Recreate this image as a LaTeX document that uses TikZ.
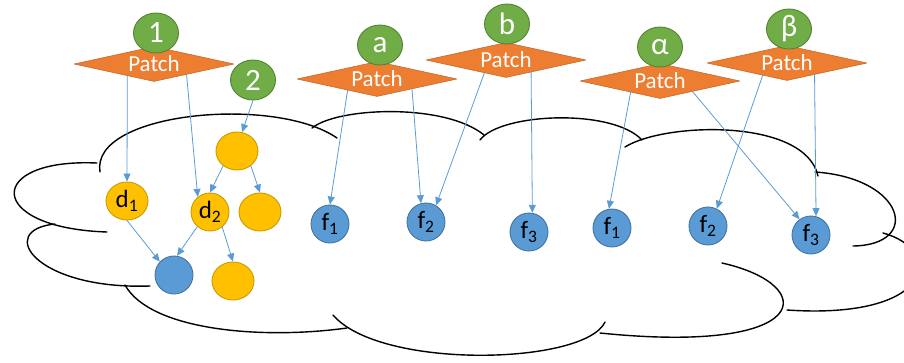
\documentclass[tikz,border=0pt]{standalone}
\usepackage{fontspec}
\setmainfont{Carlito}
\usetikzlibrary{shapes.geometric,arrows.meta}
\definecolor{porange}{HTML}{ED7D31}
\definecolor{pgreen}{HTML}{70AD47}
\definecolor{pyellow}{HTML}{FFC000}
\definecolor{pblue}{HTML}{5B9BD5}
\begin{document}
\begin{tikzpicture}[line join=round,line cap=round,x=1pt,y=-1pt,
	patch/.style={diamond,shape aspect=4.6,draw=porange!85!black,line width=.6pt,fill=porange,minimum width=160pt,minimum height=35pt,inner sep=0pt,text=white,font=\fontsize{23}{23}\selectfont},
	tag/.style={ellipse,draw=pgreen!75!black,line width=.9pt,fill=pgreen,minimum width=45pt,minimum height=40pt,inner sep=0pt,text=white,font=\fontsize{31}{31}\selectfont},
	ynode/.style={ellipse,draw=pyellow!80!black,line width=.9pt,fill=pyellow,minimum width=42pt,minimum height=38pt,inner sep=0pt,font=\fontsize{25}{25}\selectfont},
	bnode/.style={circle,draw=pblue!75!black,line width=.9pt,fill=pblue,minimum size=38pt,inner sep=0pt,font=\fontsize{25}{25}\selectfont},
	link/.style={-{Triangle[length=8pt,width=7pt]},draw=pblue,line width=.8pt},
	cloudline/.style={line width=1.4pt}]
	\useasboundingbox (0,0) rectangle (904,362);
	%Vẽ đám mây
	\begin{scope}
	\clip (0,0) rectangle (904,362);
	\draw[cloudline] (100,172) .. controls (90,112) and (275,95) .. (337,138);
	\draw[cloudline] (312,128) .. controls (338,107) and (445,103) .. (484,135);
	\draw[cloudline] (480,140) .. controls (500,113) and (612,108) .. (642,140);
	\draw[cloudline] (625,147) .. controls (665,122) and (805,118) .. (818,176);
	\draw[cloudline] (815,172) .. controls (905,178) and (922,245) .. (853,246);
	\draw[cloudline] (883,233) .. controls (945,250) and (935,320) .. (787,310);
	\draw[cloudline] (722,263) .. controls (820,285) and (815,355) .. (600,333);
	\draw[cloudline] (605,322) .. controls (585,365) and (380,370) .. (333,315);
	\draw[cloudline] (347,328) .. controls (260,340) and (150,330) .. (125,285);
	\draw[cloudline] (150,286) .. controls (35,290) and (-5,230) .. (55,224);
	\draw[cloudline] (107,232) .. controls (-15,228) and (-15,158) .. (97,163);
	\end{scope}
	%Các patch và nhãn
	\foreach \n/\x/\y in {p1/154/64,pa/377/79,pb/506/60,pal/660/81,pbe/787/63}
		\node[patch] (\n) at (\x,\y) {Patch};
	\foreach \n/\x/\y/\t in {g1/156/33/1,g2/253/80/2,ga/380/45/a,gb/507/24/b,gal/660/47/α,gbe/789/29/β}
		\node[tag] (\n) at (\x,\y) {\t};
	%Các nút trong đám mây
	\node[ynode] (y0) at (237,151) {};
	\node[ynode] (d1) at (127,201) {d\textsubscript{1}};
	\node[ynode,minimum width=38pt] (d2) at (210,212) {d\textsubscript{2}};
	\node[ynode] (y3) at (260,212) {};
	\node[ynode] (y4) at (233,281) {};
	\node[bnode] (b0) at (174,275) {};
	\node[bnode] (fa1) at (330,224) {f\textsubscript{1}};
	\node[bnode] (fa2) at (426,222) {f\textsubscript{2}};
	\node[bnode] (fa3) at (529,232) {f\textsubscript{3}};
	\node[bnode] (fb1) at (612,228) {f\textsubscript{1}};
	\node[bnode] (fb2) at (708,226) {f\textsubscript{2}};
	\node[bnode] (fb3) at (811,235) {f\textsubscript{3}};
	%Các mũi tên
	\draw[link] (p1.204) -- (d1.north);
	\draw[link] (p1.342) -- (d2.129);
	\draw[link] (g2.south) -- (y0.75);
	\draw[link] (y0.227) -- (d2.north);
	\draw[link] (y0.313) -- (y3.north);
	\draw[link] (d1.south) -- (b0.137);
	\draw[link] (d2.229) -- (b0.81);
	\draw[link] (d2.309) -- (y4.north);
	\draw[link] (pa.201) -- (fa1.north);
	\draw[link] (pa.344) -- (fa2.105);
	\draw[link] (pb.211) -- (fa2.59);
	\draw[link] (pb.334) -- (fa3.80);
	\draw[link] (pal.201) -- (fb1.99);
	\draw[link] (pal.342) -- (fb3.126);
	\draw[link] (pbe.207) -- (fb2.63);
	\draw[link] (pbe.337) -- (fb3.75);
\end{tikzpicture}
\end{document}
